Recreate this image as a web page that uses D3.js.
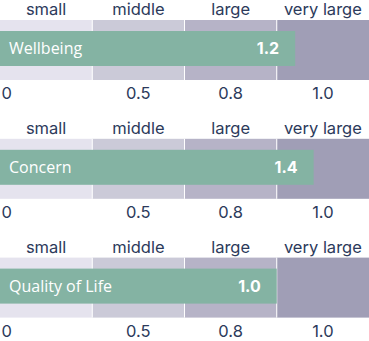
<!DOCTYPE html>
<html>
<head>
<meta charset="utf-8">
<script src="https://cdn.jsdelivr.net/npm/d3@7"></script>
<style>
  html, body { margin: 0; padding: 0; background: #ffffff; }
  svg { display: block; }
</style>
</head>
<body>
<svg id="chart" width="369" height="341"></svg>
<script>
// Effect-size bands: names, lower/upper bounds and fills
const bandNames = ["small", "middle", "large", "very large"];
const bandBreaks = [0, 0.5, 0.8, 1.0, 2.0];
const bandColors = ["#e5e3ee", "#cbcad8", "#b6b3c7", "#a09eb6"];
const tickLabels = ["0", "0.5", "0.8", "1.0"];

// Measured outcomes
const outcomes = ["Wellbeing", "Concern", "Quality of Life"];
const effects = [1.2, 1.4, 1.0];

const width = 369;
const panelPitch = 118.8;
const bandTop = 20;
const bandH = 60;
const barOffset = 11;
const barH = 35;

const svg = d3.select("#chart");

// Each band occupies an equal share of the width; values map piecewise inside it
const bandX = d3.scaleBand().domain(bandNames).range([0, width]).padding(0);
const x = d3.scaleLinear()
  .domain(bandBreaks)
  .range(bandBreaks.map((d, i) => i * width / bandNames.length));

const textColor = "#2c3a5b";
const labelFont = "Inter, 'Open Sans', sans-serif";

outcomes.forEach((name, k) => {
  const g = svg.append("g").attr("transform", `translate(0,${k * panelPitch})`);

  // band backgrounds
  g.selectAll("rect.band")
    .data(bandNames)
    .join("rect")
    .attr("class", "band")
    .attr("x", d => bandX(d))
    .attr("y", bandTop)
    .attr("width", bandX.bandwidth())
    .attr("height", bandH)
    .attr("fill", (d, i) => bandColors[i]);

  // thin white separators between bands
  g.selectAll("line.sep")
    .data(bandNames.slice(1))
    .join("line")
    .attr("class", "sep")
    .attr("x1", d => bandX(d))
    .attr("x2", d => bandX(d))
    .attr("y1", bandTop)
    .attr("y2", bandTop + bandH)
    .attr("stroke", "#ffffff")
    .attr("stroke-width", 1);

  // band names above
  g.selectAll("text.bandname")
    .data(bandNames)
    .join("text")
    .attr("class", "bandname")
    .attr("x", d => bandX(d) + bandX.bandwidth() / 2)
    .attr("y", bandTop - 5)
    .attr("text-anchor", "middle")
    .attr("fill", textColor)
    .style("font-family", labelFont)
    .style("font-size", "16.5px")
    .text(d => d);

  // lower bound of each band below
  g.selectAll("text.tick")
    .data(tickLabels)
    .join("text")
    .attr("class", "tick")
    .attr("x", (d, i) => i === 0 ? x(bandBreaks[0]) + 1.5 : bandX(bandNames[i]) + bandX.bandwidth() / 2)
    .attr("y", bandTop + bandH + 19)
    .attr("text-anchor", (d, i) => i === 0 ? "start" : "middle")
    .attr("fill", textColor)
    .style("font-family", labelFont)
    .style("font-size", "16.5px")
    .text(d => d);

  // effect bar
  const v = effects[k];
  g.append("rect")
    .attr("x", x(0))
    .attr("y", bandTop + barOffset)
    .attr("width", x(v) - x(0))
    .attr("height", barH)
    .attr("fill", "#84b3a3");

  g.append("text")
    .attr("x", x(0) + 9)
    .attr("y", bandTop + barOffset + barH / 2)
    .attr("dy", "0.36em")
    .attr("fill", "#ffffff")
    .style("font-family", "'Open Sans', sans-serif")
    .style("font-size", "16px")
    .style("font-weight", 500)
    .text(name);

  g.append("text")
    .attr("x", x(v) - 16)
    .attr("y", bandTop + barOffset + barH / 2)
    .attr("dy", "0.36em")
    .attr("text-anchor", "end")
    .attr("fill", "#ffffff")
    .style("font-family", "Inter, sans-serif")
    .style("font-size", "16px")
    .style("font-weight", 700)
    .text(d3.format(".1f")(v));
});
</script>
</body>
</html>
